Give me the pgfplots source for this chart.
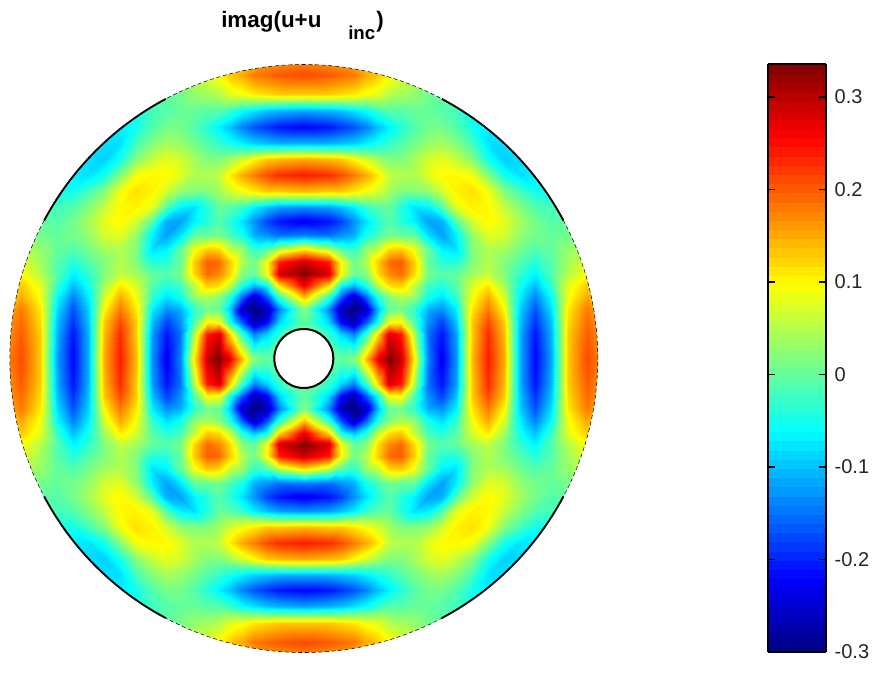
\documentclass[border=0pt]{standalone}
\usepackage{pgfplots}
\usepackage{pgfplotstable}
\usepackage{fontspec}
\setmainfont{Liberation Sans}
\pgfplotsset{compat=1.18}
\pgfplotstableread[row sep=\\]{
x y z\\
0 0 0\\25 0 0\\37 0 0\\50 0 .02\\62 0 .14\\74 0 .27\\85 0 .335\\97 0 .29\\110 0 .11\\124 0 -.14\\138 0 -.23\\152 0 -.13\\168 0 .14\\184 0 .24\\200 0 .15\\216 0 -.11\\231 0 -.22\\247 0 -.12\\264 0 .13\\283 0 .21\\298 0 .17\\
0 25 0\\25 25 -.03\\37 25 -.09\\50 25 -.14\\62 25 -.03\\74 25 .12\\85 25 .28\\97 25 .24\\110 25 .05\\124 25 -.15\\138 25 -.21\\152 25 -.12\\168 25 .13\\184 25 .23\\200 25 .14\\216 25 -.11\\231 25 -.21\\247 25 -.11\\264 25 .13\\283 25 .20\\298 25 .16\\
0 37 0\\25 37 -.09\\37 37 -.22\\50 37 -.27\\62 37 -.17\\74 37 -.05\\85 37 .09\\97 37 .10\\110 37 -.01\\124 37 -.13\\138 37 -.18\\152 37 -.10\\168 37 .13\\184 37 .21\\200 37 .13\\216 37 -.10\\231 37 -.19\\247 37 -.10\\264 37 .12\\283 37 .19\\298 37 .155\\
0 50 .02\\25 50 -.14\\37 50 -.27\\50 50 -.31\\62 50 -.26\\74 50 -.10\\85 50 0\\97 50 .01\\110 50 -.03\\124 50 -.11\\138 50 -.13\\152 50 -.07\\168 50 .11\\184 50 .18\\200 50 .10\\216 50 -.09\\231 50 -.17\\247 50 -.08\\264 50 .11\\283 50 .18\\298 50 .14\\
0 62 .14\\25 62 -.03\\37 62 -.17\\50 62 -.26\\62 62 -.16\\74 62 -.04\\85 62 .02\\97 62 .05\\110 62 .03\\124 62 -.05\\138 62 -.08\\152 62 -.03\\168 62 .09\\184 62 .15\\200 62 .07\\216 62 -.07\\231 62 -.14\\247 62 -.06\\264 62 .09\\283 62 .15\\298 62 .12\\
0 74 .27\\25 74 .12\\37 74 -.05\\50 74 -.10\\62 74 -.04\\74 74 .06\\85 74 .12\\97 74 .13\\110 74 .06\\124 74 -.02\\138 74 -.04\\152 74 -.01\\168 74 .07\\184 74 .11\\200 74 .04\\216 74 -.05\\231 74 -.10\\247 74 -.03\\264 74 .08\\283 74 .13\\298 74 .10\\
0 85 .335\\25 85 .28\\37 85 .09\\50 85 0\\62 85 .02\\74 85 .12\\85 85 .17\\97 85 .19\\110 85 .12\\124 85 .01\\138 85 -.01\\152 85 0\\168 85 .04\\184 85 .06\\200 85 .02\\216 85 -.03\\231 85 -.07\\247 85 -.01\\264 85 .05\\283 85 .10\\298 85 .09\\
0 97 .29\\25 97 .24\\37 97 .10\\50 97 .01\\62 97 .05\\74 97 .13\\85 97 .19\\97 97 .20\\110 97 .13\\124 97 0\\138 97 -.04\\152 97 -.04\\168 97 .02\\184 97 .05\\200 97 .02\\216 97 -.01\\231 97 -.04\\247 97 -.01\\264 97 .04\\283 97 .075\\298 97 .07\\
0 110 .11\\25 110 .05\\37 110 -.01\\50 110 -.03\\62 110 .03\\74 110 .06\\85 110 .12\\97 110 .13\\110 110 .09\\124 110 0\\138 110 -.07\\152 110 -.08\\168 110 .02\\184 110 .05\\200 110 .04\\216 110 .01\\231 110 -.01\\247 110 0\\264 110 .03\\283 110 .05\\298 110 .05\\
0 124 -.14\\25 124 -.15\\37 124 -.13\\50 124 -.11\\62 124 -.05\\74 124 -.02\\85 124 .01\\97 124 0\\110 124 0\\124 124 -.08\\138 124 -.12\\152 124 -.07\\168 124 .03\\184 124 .08\\200 124 .07\\216 124 .03\\231 124 .01\\247 124 0\\264 124 .01\\283 124 .02\\298 124 .02\\
0 138 -.23\\25 138 -.21\\37 138 -.18\\50 138 -.13\\62 138 -.08\\74 138 -.04\\85 138 -.01\\97 138 -.04\\110 138 -.07\\124 138 -.12\\138 138 -.11\\152 138 -.01\\168 138 .07\\184 138 .10\\200 138 .08\\216 138 .04\\231 138 .01\\247 138 -.01\\264 138 0\\283 138 0\\298 138 0\\
0 152 -.13\\25 152 -.12\\37 152 -.10\\50 152 -.07\\62 152 -.03\\74 152 -.01\\85 152 0\\97 152 -.04\\110 152 -.08\\124 152 -.07\\138 152 -.01\\152 152 .08\\168 152 .105\\184 152 .10\\200 152 .06\\216 152 .02\\231 152 -.01\\247 152 -.02\\264 152 -.02\\283 152 -.02\\298 152 -.02\\
0 168 .14\\25 168 .13\\37 168 .13\\50 168 .11\\62 168 .09\\74 168 .07\\85 168 .04\\97 168 .02\\110 168 .02\\124 168 .03\\138 168 .07\\152 168 .105\\168 168 .115\\184 168 .09\\200 168 .02\\216 168 -.02\\231 168 -.05\\247 168 -.05\\264 168 -.05\\283 168 -.05\\298 168 -.05\\
0 184 .24\\25 184 .23\\37 184 .21\\50 184 .18\\62 184 .15\\74 184 .11\\85 184 .06\\97 184 .05\\110 184 .05\\124 184 .08\\138 184 .10\\152 184 .10\\168 184 .09\\184 184 .02\\200 184 -.05\\216 184 -.08\\231 184 -.07\\247 184 -.07\\264 184 -.07\\283 184 -.07\\298 184 -.07\\
0 200 .15\\25 200 .14\\37 200 .13\\50 200 .10\\62 200 .07\\74 200 .04\\85 200 .02\\97 200 .02\\110 200 .04\\124 200 .07\\138 200 .08\\152 200 .06\\168 200 .02\\184 200 -.05\\200 200 -.09\\216 200 -.08\\231 200 -.08\\247 200 -.08\\264 200 -.08\\283 200 -.08\\298 200 -.08\\
0 216 -.11\\25 216 -.11\\37 216 -.10\\50 216 -.09\\62 216 -.07\\74 216 -.05\\85 216 -.03\\97 216 -.01\\110 216 .01\\124 216 .03\\138 216 .04\\152 216 .02\\168 216 -.02\\184 216 -.08\\200 216 -.08\\216 216 -.08\\231 216 -.08\\247 216 -.08\\264 216 -.08\\283 216 -.08\\298 216 -.08\\
0 231 -.22\\25 231 -.21\\37 231 -.19\\50 231 -.17\\62 231 -.14\\74 231 -.10\\85 231 -.07\\97 231 -.04\\110 231 -.01\\124 231 .01\\138 231 .01\\152 231 -.01\\168 231 -.05\\184 231 -.07\\200 231 -.08\\216 231 -.08\\231 231 -.08\\247 231 -.08\\264 231 -.08\\283 231 -.08\\298 231 -.08\\
0 247 -.12\\25 247 -.11\\37 247 -.10\\50 247 -.08\\62 247 -.06\\74 247 -.03\\85 247 -.01\\97 247 -.01\\110 247 0\\124 247 0\\138 247 -.01\\152 247 -.02\\168 247 -.05\\184 247 -.07\\200 247 -.08\\216 247 -.08\\231 247 -.08\\247 247 -.08\\264 247 -.08\\283 247 -.08\\298 247 -.08\\
0 264 .13\\25 264 .13\\37 264 .12\\50 264 .11\\62 264 .09\\74 264 .08\\85 264 .05\\97 264 .04\\110 264 .03\\124 264 .01\\138 264 0\\152 264 -.02\\168 264 -.05\\184 264 -.07\\200 264 -.08\\216 264 -.08\\231 264 -.08\\247 264 -.08\\264 264 -.08\\283 264 -.08\\298 264 -.08\\
0 283 .21\\25 283 .20\\37 283 .19\\50 283 .18\\62 283 .15\\74 283 .13\\85 283 .10\\97 283 .075\\110 283 .05\\124 283 .02\\138 283 0\\152 283 -.02\\168 283 -.05\\184 283 -.07\\200 283 -.08\\216 283 -.08\\231 283 -.08\\247 283 -.08\\264 283 -.08\\283 283 -.08\\298 283 -.08\\
0 298 .17\\25 298 .16\\37 298 .155\\50 298 .14\\62 298 .12\\74 298 .10\\85 298 .09\\97 298 .07\\110 298 .05\\124 298 .02\\138 298 0\\152 298 -.02\\168 298 -.05\\184 298 -.07\\200 298 -.08\\216 298 -.08\\231 298 -.08\\247 298 -.08\\264 298 -.08\\283 298 -.08\\298 298 -.08\\
}\tbl
\begin{document}
\begin{tikzpicture}
\useasboundingbox (0,0) rectangle (660pt,504pt);
\begin{axis}[
  at={(0,0)}, anchor=south west,
  scale only axis, width=660pt, height=504pt,
  xmin=0, xmax=880, ymin=0, ymax=672,
  hide axis,
  colormap/jet,
  point meta min=-0.3, point meta max=0.3357,
  colorbar sampled,
  colorbar style={
    samples=65,
    at={(0.8727,0.9048)}, anchor=north west,
    width=43.5pt, height=441pt,
    scale only axis,
    ytick={-0.3,-0.2,-0.1,0,0.1,0.2,0.3},
    yticklabels={-0.3,-0.2,-0.1,0,0.1,0.2,0.3},
    tick align=inside, ytick pos=both, yticklabel pos=right,
    major tick length=5pt,
    tick style={black, line width=1pt},
    axis line style={line width=1pt},
    yticklabel style={font=\fontsize{15}{18}\selectfont, text=black!85, xshift=3pt},
  },
]
\addplot[surf, shader=interp, mesh/rows=21, point meta=\thisrow{z}] table[x expr=303.8+\thisrow{x}, y expr=313.5+\thisrow{y}] {\tbl};
\addplot[surf, shader=interp, mesh/rows=21, point meta=\thisrow{z}] table[x expr=303.8-\thisrow{x}, y expr=313.5+\thisrow{y}] {\tbl};
\addplot[surf, shader=interp, mesh/rows=21, point meta=\thisrow{z}] table[x expr=303.8+\thisrow{x}, y expr=313.5-\thisrow{y}] {\tbl};
\addplot[surf, shader=interp, mesh/rows=21, point meta=\thisrow{z}] table[x expr=303.8-\thisrow{x}, y expr=313.5-\thisrow{y}] {\tbl};
\fill[white, even odd rule] (axis cs:0,10) rectangle (axis cs:610,620)
   (axis cs:303.8,313.5) circle[radius=294];
\draw[black, fill=white, line width=1.5pt] (axis cs:303.8,313.5) circle[radius=29.5];
\draw[black, line width=0.4pt, dash pattern=on 3pt off 2pt] (axis cs:303.8,313.5) circle[radius=294];
\draw[black, line width=1.4pt] (axis cs:303.8,313.5) ++(28:220.5pt) arc[start angle=28, delta angle=34, radius=220.5pt];
\draw[black, line width=1.4pt] (axis cs:303.8,313.5) ++(118:220.5pt) arc[start angle=118, delta angle=34, radius=220.5pt];
\draw[black, line width=1.4pt] (axis cs:303.8,313.5) ++(208:220.5pt) arc[start angle=208, delta angle=34, radius=220.5pt];
\draw[black, line width=1.4pt] (axis cs:303.8,313.5) ++(298:220.5pt) arc[start angle=298, delta angle=34, radius=220.5pt];
\node[anchor=base west, inner sep=0pt, font=\fontsize{16.8}{20}\selectfont\bfseries] at (axis cs:221,644) {imag(u+u};
\node[anchor=base west, inner sep=0pt, font=\fontsize{14}{17}\selectfont\bfseries] at (axis cs:348,632) {inc};
\node[anchor=base west, inner sep=0pt, font=\fontsize{16.8}{20}\selectfont\bfseries] at (axis cs:376,644) {)};
\end{axis}
\end{tikzpicture}
\end{document}
